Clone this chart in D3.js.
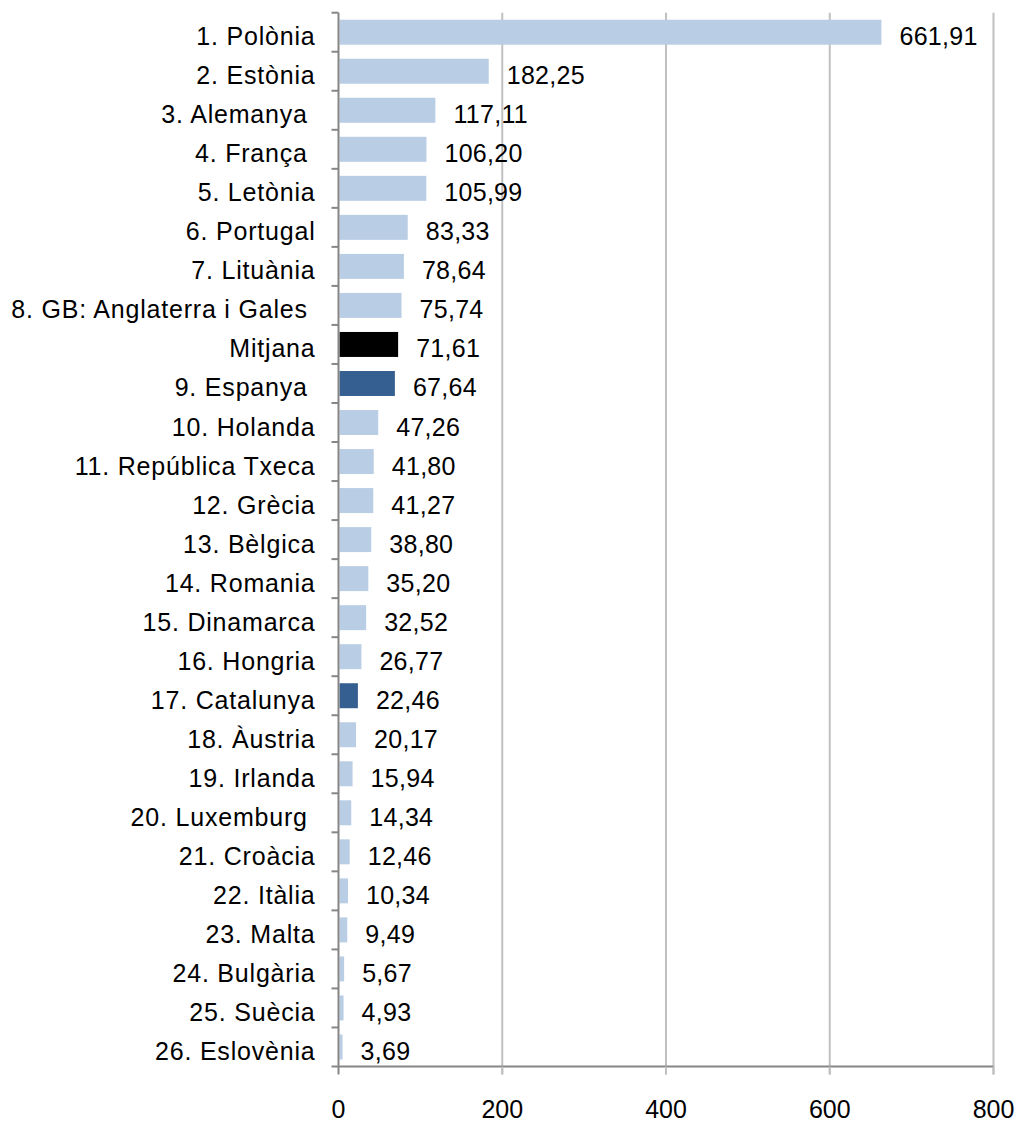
<!DOCTYPE html>
<html><head><meta charset="utf-8">
<script src="https://cdn.jsdelivr.net/npm/d3@7"></script>
<style>body{margin:0;background:#fff}</style>
</head><body>
<script>
const categories = ["1. Polònia","2. Estònia","3. Alemanya ","4. França ","5. Letònia","6. Portugal","7. Lituània","8. GB: Anglaterra i Gales ","Mitjana","9. Espanya ","10. Holanda","11. República Txeca","12. Grècia","13. Bèlgica","14. Romania","15. Dinamarca","16. Hongria","17. Catalunya","18. Àustria","19. Irlanda","20. Luxemburg ","21. Croàcia","22. Itàlia","23. Malta","24. Bulgària","25. Suècia","26. Eslovènia"];
const values = [661.91,182.25,117.11,106.20,105.99,83.33,78.64,75.74,71.61,67.64,47.26,41.80,41.27,38.80,35.20,32.52,26.77,22.46,20.17,15.94,14.34,12.46,10.34,9.49,5.67,4.93,3.69];
const highlight = {"Mitjana":"#000000","9. Espanya ":"#355f91","17. Catalunya":"#355f91"};
const tickValues = [0,200,400,600,800];

const W=1018,H=1124;
const m={left:338.5,right:1018-993.5,top:12.7,bottom:1124-1066.5};
const svg=d3.select("body").append("svg").attr("width",W).attr("height",H);
const x=d3.scaleLinear().domain([0,800]).range([m.left,W-m.right]);
const y=d3.scaleBand().domain(categories).range([m.top,H-m.bottom]).paddingInner(0.36).paddingOuter(0.18);
const band=(H-m.bottom-m.top)/categories.length;
const font="Liberation Sans, Arial, sans-serif";

// gridlines
svg.append("g").selectAll("line").data(tickValues.filter(d=>d>0)).join("line")
 .attr("x1",d=>x(d)).attr("x2",d=>x(d)).attr("y1",m.top).attr("y2",H-m.bottom+8)
 .attr("stroke","#c0c0c0").attr("stroke-width",2);

// bars
svg.append("g").selectAll("rect").data(values).join("rect")
 .attr("x",x(0)+1).attr("y",(d,i)=>y(categories[i]))
 .attr("width",d=>x(d)-x(0)).attr("height",y.bandwidth())
 .attr("fill",(d,i)=>highlight[categories[i]]||"#b9cde5");

// value labels
svg.append("g").selectAll("text").data(values).join("text")
 .attr("x",d=>x(d)+19).attr("y",(d,i)=>y(categories[i])+y.bandwidth()/2+13)
 .attr("font-family",font).attr("font-size",25).attr("letter-spacing",0.3).attr("fill","#000")
 .text(d=>d3.format(".2f")(d).replace(".",","));

// left axis
const ax=svg.append("g");
ax.append("line").attr("x1",m.left).attr("x2",m.left).attr("y1",m.top).attr("y2",H-m.bottom)
 .attr("stroke","#868686").attr("stroke-width",2);
ax.selectAll("line.t").data(d3.range(categories.length+1)).join("line").attr("class","t")
 .attr("x1",m.left-7).attr("x2",m.left).attr("y1",i=>m.top+i*band).attr("y2",i=>m.top+i*band)
 .attr("stroke","#868686").attr("stroke-width",2);
ax.selectAll("text").data(categories).join("text")
 .attr("x",m.left-23).attr("y",d=>y(d)+y.bandwidth()/2+13)
 .attr("text-anchor","end").attr("font-family",font).attr("font-size",25).attr("letter-spacing",0.8)
 .attr("xml:space","preserve").style("white-space","pre").attr("fill","#000")
 .text(d=>d);

// bottom axis
const bx=svg.append("g");
bx.append("line").attr("x1",m.left).attr("x2",x(800)).attr("y1",H-m.bottom).attr("y2",H-m.bottom)
 .attr("stroke","#868686").attr("stroke-width",2);
bx.selectAll("line.t").data(tickValues).join("line").attr("class","t")
 .attr("x1",d=>x(d)).attr("x2",d=>x(d)).attr("y1",H-m.bottom).attr("y2",H-m.bottom+8)
 .attr("stroke",d=>d===0?"#868686":"#c0c0c0").attr("stroke-width",2);
bx.selectAll("text").data(tickValues).join("text")
 .attr("x",d=>x(d)).attr("y",1118)
 .attr("text-anchor","middle").attr("font-family",font).attr("font-size",25).attr("fill","#000")
 .text(d=>d);
</script>
</body></html>
